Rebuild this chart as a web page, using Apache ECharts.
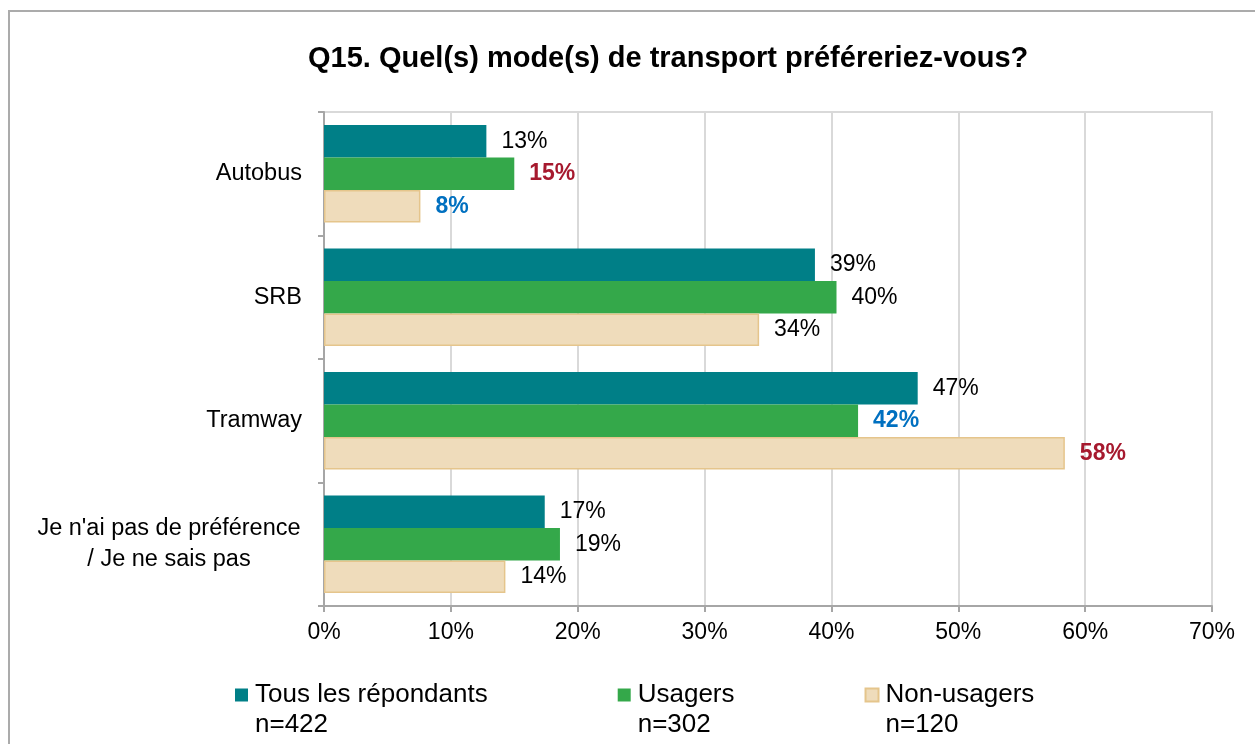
<!DOCTYPE html>
<html>
<head>
<meta charset="utf-8">
<script src="https://cdn.jsdelivr.net/npm/echarts@6/dist/echarts.min.js"></script>
<style>
  html, body { margin: 0; padding: 0; background: #fff; }
  #chart { width: 1255px; height: 744px; }
</style>
</head>
<body>
<div id="chart"></div>
<script>
// catégories (axe vertical, de haut en bas)
var categories = ['Autobus', 'SRB', 'Tramway', "Je n'ai pas de préférence\n/ Je ne sais pas"];
// séries
var seriesNames = ['Tous les répondants', 'Usagers', 'Non-usagers'];
var sampleSizes = [422, 302, 120];
var tousValues = [12.8, 38.7, 46.8, 17.4];
var usagersValues = [15.0, 40.4, 42.1, 18.6];
var nonUsagersValues = [7.6, 34.3, 58.4, 14.3];
// écarts significatifs : 'up' = plus élevé, 'down' = plus faible
var tousFlags = ['', '', '', ''];
var usagersFlags = ['up', '', 'down', ''];
var nonUsagersFlags = ['down', '', 'up', ''];
// axe des x
var xTicks = [0, 10, 20, 30, 40, 50, 60, 70];

(function () {
  var chartDom = document.getElementById('chart');
  var myChart = echarts.init(chartDom);
  var font = 'Liberation Sans, Arial, sans-serif';
  var colors = ['#007F87', '#34A84A', '#EFDCBB'];
  var flagColor = { up: '#A6192E', down: '#0070C0' };

  // données + étiquettes colorées
  function buildData(values, flags) {
    return values.map(function (v, i) {
      var f = flags[i];
      return {
        value: v,
        label: f ? { color: flagColor[f], fontWeight: 'bold' } : {}
      };
    });
  }

  function makeSeries(idx, values, flags) {
    var s = {
      name: seriesNames[idx],
      type: 'bar',
      data: buildData(values, flags),
      barGap: '0%',
      barCategoryGap: '21%',
      itemStyle: { color: colors[idx] },
      label: {
        show: true,
        position: 'right',
        distance: 15,
        fontFamily: font,
        fontSize: 23,
        color: '#000',
        formatter: function (p) {
          return Math.round(p.value) + '%';
        }
      }
    };
    if (idx === 2) {
      s.itemStyle.borderColor = '#E5C58C';
      s.itemStyle.borderWidth = 1.5;
    }
    return s;
  }

  var option = {
    animation: false,
    backgroundColor: '#fff',
    textStyle: { fontFamily: font },
    graphic: [{
      type: 'rect',
      shape: { x: 9, y: 11, width: 1300, height: 800 },
      style: { fill: 'none', stroke: '#ABABAB', lineWidth: 2 },
      silent: true
    }],
    title: {
      text: 'Q15. Quel(s) mode(s) de transport préféreriez-vous?',
      left: 303,
      top: 39,
      textStyle: {
        fontFamily: font,
        fontSize: 29,
        fontWeight: 'bold',
        color: '#000'
      }
    },
    legend: {
      left: 230,
      top: 675,
      itemGap: 130,
      itemWidth: 13,
      itemHeight: 43,
      icon: 'path://M0,0h13v13h-13zM0,43',
      formatter: function (name) {
        var i = seriesNames.indexOf(name);
        return name + '\nn=' + sampleSizes[i];
      },
      textStyle: {
        fontFamily: font,
        fontSize: 26,
        lineHeight: 30,
        color: '#000',
        padding: [0, 0, 0, 2]
      }
    },
    grid: {
      left: 324,
      right: 43,
      top: 112,
      bottom: 138,
      containLabel: false,
      outerBoundsMode: 'none',
      show: true,
      borderColor: '#D9D9D9',
      borderWidth: 2
    },
    xAxis: {
      type: 'value',
      min: xTicks[0],
      max: xTicks[xTicks.length - 1],
      interval: 10,
      axisLine: { show: true, lineStyle: { color: '#A6A6A6', width: 2 } },
      axisTick: { show: true, length: 6, lineStyle: { color: '#A6A6A6', width: 2 } },
      splitLine: { show: true, lineStyle: { color: '#D9D9D9', width: 2 } },
      axisLabel: {
        margin: 15,
        fontFamily: font,
        fontSize: 23,
        color: '#000',
        formatter: '{value}%'
      }
    },
    yAxis: {
      type: 'category',
      inverse: true,
      data: categories,
      axisLine: { show: true, lineStyle: { color: '#A6A6A6', width: 2 } },
      axisTick: { show: true, length: 6, lineStyle: { color: '#A6A6A6', width: 2 } },
      splitLine: { show: false },
      axisLabel: {
        margin: 22,
        fontFamily: font,
        fontSize: 23.5,
        color: '#000',
        formatter: function (v) {
          if (v.indexOf('\n') < 0) return v;
          return v.split('\n').map(function (s) {
            return '{c|' + s + '}';
          }).join('\n');
        },
        rich: {
          c: {
            width: 266,
            align: 'center',
            fontFamily: font,
            fontSize: 23.5,
            lineHeight: 31,
            color: '#000'
          }
        }
      }
    },
    series: [
      makeSeries(0, tousValues, tousFlags),
      makeSeries(1, usagersValues, usagersFlags),
      makeSeries(2, nonUsagersValues, nonUsagersFlags)
    ]
  };

  option && myChart.setOption(option);
  window.addEventListener('resize', function () {
    myChart.resize();
  });
})();
</script>
</body>
</html>
